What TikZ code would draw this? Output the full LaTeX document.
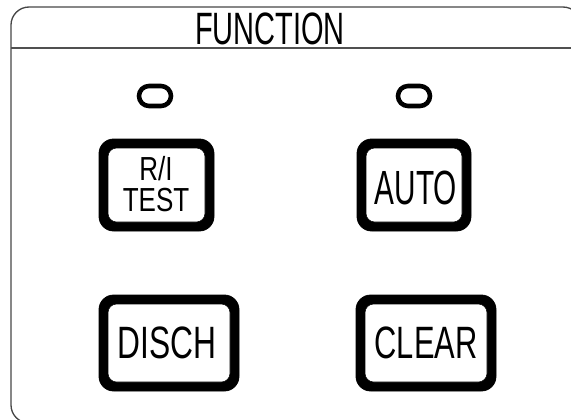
\documentclass[tikz,border=0pt]{standalone}
\usepackage{fontspec}
\setmainfont{Liberation Sans}
\tikzset{
  keyband/.style={fill=black, draw=black, line width=0.6pt, rounded corners=11pt},
  keyface/.style={fill=white, draw=black, line width=0.4pt, rounded corners=6.5pt},
  keylabel/.style={inner sep=0.75pt, align=center, font=\fontsize{34}{36}\selectfont},
  lamp/.style={draw=black, line width=3.4pt, rounded corners=7.5pt},
}
\begin{document}
\begin{tikzpicture}[x=0.75pt,y=0.75pt,yscale=-1,xscale=1]
		\useasboundingbox (0,0) rectangle (571,419);
		\clip (0,0) rectangle (571,419);

		%Shape: Panel frame
		\draw [color={rgb, 255:red, 70; green, 70; blue, 70 }, line width=1pt, rounded corners=13.5pt] (11,7) rectangle (581,423) ;
		%Straight Lines: header rule
		\draw [color={rgb, 255:red, 80; green, 80; blue, 80 }, line width=1pt] (11,48) -- (581,48) ;

		%Shape: Lamp left
		\draw [lamp] (139,86) rectangle (171,106) ;
		%Shape: Lamp right
		\draw [lamp] (398,86) rectangle (430,106) ;

		%Shape: Key R/I TEST
		\draw [keyband] (99,139) rectangle (214,231) ;
		\draw [keyface] (108,148) rectangle (205,222) ;
		%Shape: Key AUTO
		\draw [keyband] (357,139) rectangle (471,231) ;
		\draw [keyface] (366,148) rectangle (462,222) ;
		%Shape: Key DISCH
		\draw [keyband] (99,295) rectangle (239,391) ;
		\draw [keyface] (108,304) rectangle (230,382) ;
		%Shape: Key CLEAR
		\draw [keyband] (356,295) rectangle (496,391) ;
		\draw [keyface] (365,304) rectangle (487,382) ;

		% Text Node
		\draw (270,28.5) node [keylabel, xscale=0.64] (title) {FUNCTION};
		% Text Node
		\draw (156,180) node [anchor=base, inner sep=0pt, xscale=0.78, font=\fontsize{25}{27}\selectfont] (ri) {R/I};
		% Text Node
		\draw (156,211) node [anchor=base, inner sep=0pt, xscale=0.78, font=\fontsize{25}{27}\selectfont] (test) {TEST};
		% Text Node
		\draw (416,187.5) node [keylabel, xscale=0.62, font=\fontsize{36}{38}\selectfont] (auto) {AUTO};
		% Text Node
		\draw (167,343) node [keylabel, xscale=0.7] (disch) {DISCH};
		% Text Node
		\draw (426,343) node [keylabel, xscale=0.68] (clear) {CLEAR};
	\end{tikzpicture}
\end{document}
